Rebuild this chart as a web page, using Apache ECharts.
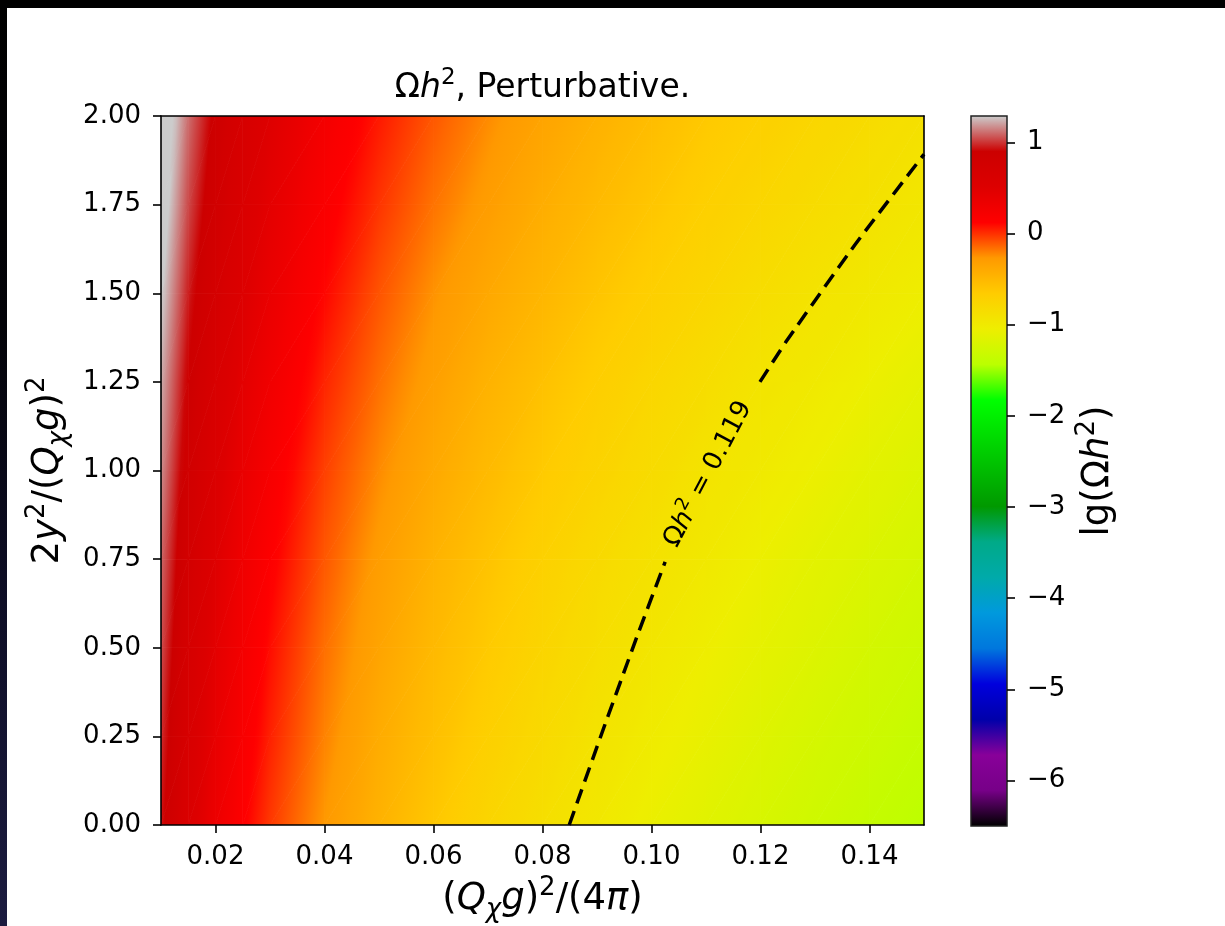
<!DOCTYPE html>
<html>
<head>
<meta charset="utf-8">
<title>Ωh², Perturbative.</title>
<script src="https://cdn.jsdelivr.net/npm/echarts@6/dist/echarts.min.js"></script>
<style>
  html, body { margin: 0; padding: 0; background: #ffffff; }
  #chart { width: 1225px; height: 926px; }
</style>
</head>
<body>
<div id="chart"></div>
<script>
const FONT = 'DejaVu Sans';

// Scan nodes: x = (Q_χ g)²/(4π), y = 2y²/(Q_χ g)²
const xNodes = [0.010, 0.015, 0.020, 0.025, 0.030, 0.040, 0.050, 0.060, 0.070,
                0.080, 0.090, 0.100, 0.110, 0.120, 0.130, 0.140, 0.150];
const yNodes = [0.00, 0.25, 0.50, 0.75, 1.00, 1.25, 1.50, 1.75, 2.00];

// lg(Ωh²) along each row of constant y
const lgOmega_y000 = [0.93, 0.58, 0.33, 0.14, -0.02, -0.27, -0.46, -0.62, -0.76, -0.87, -0.97, -1.07, -1.15, -1.22, -1.29, -1.36, -1.42];
const lgOmega_y025 = [0.99, 0.64, 0.39, 0.20, 0.04, -0.21, -0.41, -0.56, -0.70, -0.81, -0.92, -1.01, -1.09, -1.17, -1.24, -1.30, -1.36];
const lgOmega_y050 = [1.05, 0.69, 0.44, 0.25, 0.09, -0.16, -0.35, -0.51, -0.64, -0.76, -0.86, -0.95, -1.04, -1.11, -1.18, -1.25, -1.31];
const lgOmega_y075 = [1.10, 0.75, 0.50, 0.30, 0.15, -0.10, -0.30, -0.46, -0.59, -0.71, -0.81, -0.90, -0.98, -1.06, -1.13, -1.19, -1.25];
const lgOmega_y100 = [1.17, 0.81, 0.56, 0.37, 0.21, -0.04, -0.23, -0.39, -0.52, -0.64, -0.74, -0.83, -0.92, -0.99, -1.06, -1.13, -1.19];
const lgOmega_y125 = [1.23, 0.88, 0.63, 0.44, 0.28, 0.03, -0.16, -0.32, -0.46, -0.57, -0.68, -0.77, -0.85, -0.93, -0.99, -1.06, -1.12];
const lgOmega_y150 = [1.31, 0.96, 0.71, 0.52, 0.36, 0.11, -0.09, -0.25, -0.38, -0.49, -0.60, -0.69, -0.77, -0.85, -0.92, -0.98, -1.04];
const lgOmega_y175 = [1.39, 1.04, 0.79, 0.59, 0.43, 0.18, -0.01, -0.17, -0.30, -0.42, -0.52, -0.61, -0.70, -0.77, -0.84, -0.90, -0.96];
const lgOmega_y200 = [1.46, 1.11, 0.86, 0.66, 0.50, 0.25, 0.06, -0.10, -0.23, -0.35, -0.45, -0.54, -0.63, -0.70, -0.77, -0.83, -0.89];
const lgOmegaRows = [lgOmega_y000, lgOmega_y025, lgOmega_y050, lgOmega_y075, lgOmega_y100,
                     lgOmega_y125, lgOmega_y150, lgOmega_y175, lgOmega_y200];

// Ωh² = 0.119 contour, split where its inline label sits
const contourLowerX = [0.0849, 0.0911, 0.0973, 0.1025];
const contourLowerY = [0.000, 0.268, 0.530, 0.742];
const contourUpperX = [0.1199, 0.1249, 0.1373, 0.1500];
const contourUpperY = [1.250, 1.368, 1.636, 1.892];
const contourLabelPos = [0.1104, 0.99];

// Tick positions
const xTicks = [0.02, 0.04, 0.06, 0.08, 0.10, 0.12, 0.14];
const yTicks = [0.00, 0.25, 0.50, 0.75, 1.00, 1.25, 1.50, 1.75, 2.00];
const cbarTicks = [-6, -5, -4, -3, -2, -1, 0, 1];
const cbarRange = [-6.5, 1.29];

// nipy_spectral colour stops, evenly spaced over the colour range
const NIPY_SPECTRAL = ['#000000', '#770088', '#880099', '#0000aa', '#0000dd', '#0077dd', '#0099dd',
  '#00aaaa', '#00aa88', '#009900', '#00bb00', '#00dd00', '#00ff00', '#bbff00', '#eeee00',
  '#ffcc00', '#ff9900', '#ff0000', '#dd0000', '#cc0000', '#cccccc'];
const cmapRGB = NIPY_SPECTRAL.map(h => [1, 3, 5].map(k => parseInt(h.slice(k, k + 2), 16)));

function cmap(v) {
  let t = (v - cbarRange[0]) / (cbarRange[1] - cbarRange[0]);
  t = Math.max(0, Math.min(1, t));
  const n = cmapRGB.length;
  const s = t * (n - 1);
  const i = Math.min(n - 2, Math.floor(s));
  const f = s - i;
  const c0 = cmapRGB[i], c1 = cmapRGB[i + 1];
  const c = c0.map((a, k) => Math.round(a + (c1[k] - a) * f));
  return 'rgb(' + c.join(',') + ')';
}

// Gouraud shading: the value is linear over a triangle, so it is a linear
// gradient along the value gradient, coloured through the colour map.
function gouraudFill(p, v) {
  const d1x = p[1][0] - p[0][0], d1y = p[1][1] - p[0][1];
  const d2x = p[2][0] - p[0][0], d2y = p[2][1] - p[0][1];
  const dv1 = v[1] - v[0], dv2 = v[2] - v[0];
  const det = d1x * d2y - d1y * d2x;
  const vmin = Math.min(v[0], v[1], v[2]), vmax = Math.max(v[0], v[1], v[2]);
  if (Math.abs(det) < 1e-9 || vmax - vmin < 1e-6) return cmap((vmin + vmax) / 2);
  const a = (dv1 * d2y - dv2 * d1y) / det;
  const b = (d1x * dv2 - d2x * dv1) / det;
  const g2 = a * a + b * b;
  const s = (vmin - v[0]) / g2, e = (vmax - v[0]) / g2;
  const stops = [];
  const n = 8;
  for (let k = 0; k < n; k++) {
    stops.push({ offset: k / (n - 1), color: cmap(vmin + (vmax - vmin) * k / (n - 1)) });
  }
  return new echarts.graphic.LinearGradient(
    p[0][0] + a * s, p[0][1] + b * s, p[0][0] + a * e, p[0][1] + b * e, stops, true);
}

// Two triangles per scan cell
const triangles = [];
for (let j = 0; j < yNodes.length - 1; j++) {
  for (let i = 0; i < xNodes.length - 1; i++) {
    const A = [xNodes[i], yNodes[j], lgOmegaRows[j][i]];
    const B = [xNodes[i + 1], yNodes[j], lgOmegaRows[j][i + 1]];
    const C = [xNodes[i + 1], yNodes[j + 1], lgOmegaRows[j + 1][i + 1]];
    const D = [xNodes[i], yNodes[j + 1], lgOmegaRows[j + 1][i]];
    triangles.push(A.concat(B, C), A.concat(C, D));
  }
}

// Rich-text styles imitating math typesetting (italic symbols, sup/subscripts)
function mathRich(size) {
  const lh = Math.round(size * 1.3);
  const small = Math.round(size * 0.7);
  const supLh = Math.round(lh - 2 * size * 0.37);
  const subLh = Math.round(lh - 2 * size * 0.26);
  const base = { fontFamily: FONT, color: '#000' };
  return {
    n: Object.assign({}, base, { fontSize: size, lineHeight: lh }),
    i: Object.assign({}, base, { fontSize: size, lineHeight: lh, fontStyle: 'italic' }),
    sp: Object.assign({}, base, { fontSize: small, lineHeight: supLh, verticalAlign: 'top' }),
    sb: Object.assign({}, base, { fontSize: small, lineHeight: subLh, verticalAlign: 'bottom', fontStyle: 'italic' })
  };
}

const lineStyleAxis = { color: '#000', width: 1.6 };
const tickLabelStyle = { color: '#000', fontFamily: FONT, fontSize: 26 };
const fmt2 = v => Number(v).toFixed(2);
const fmtMinus = v => (v < 0 ? '\u2212' + Math.abs(v) : String(v));

const chart = echarts.init(document.getElementById('chart'), null, { renderer: 'canvas' });

chart.setOption({
  animation: false,
  backgroundColor: '#ffffff',
  grid: [
    { left: 161, top: 116, width: 763, height: 709, containLabel: false, outerBoundsMode: 'none' },
    { left: 971, top: 116, width: 36, height: 710, containLabel: false, outerBoundsMode: 'none' }
  ],
  xAxis: [
    {
      gridIndex: 0, type: 'value', min: 0.01, max: 0.15, position: 'bottom', z: 5,
      axisLine: { show: true, onZero: false, lineStyle: lineStyleAxis },
      axisTick: { show: true, customValues: xTicks, length: 8, lineStyle: { color: '#000', width: 1.6 } },
      axisLabel: Object.assign({ customValues: xTicks, formatter: fmt2, margin: 19 }, tickLabelStyle),
      splitLine: { show: false },
      name: '{n|(}{i|Q}{sb|χ}{i|g}{n|)}{sp|2}{n|/(4}{i|π}{n|)}',
      nameLocation: 'middle', nameGap: 50,
      nameTextStyle: { rich: mathRich(37) }
    },
    {
      gridIndex: 0, type: 'value', min: 0.01, max: 0.15, position: 'top', z: 5,
      axisLine: { show: true, onZero: false, lineStyle: lineStyleAxis },
      axisTick: { show: false }, axisLabel: { show: false }, splitLine: { show: false }
    },
    { gridIndex: 1, type: 'value', min: 0, max: 1, show: false }
  ],
  yAxis: [
    {
      gridIndex: 0, type: 'value', min: 0, max: 2, position: 'left', z: 5,
      axisLine: { show: true, onZero: false, lineStyle: lineStyleAxis },
      axisTick: { show: true, customValues: yTicks, length: 8, lineStyle: { color: '#000', width: 1.6 } },
      axisLabel: Object.assign({ customValues: yTicks, formatter: fmt2, margin: 20 }, tickLabelStyle),
      splitLine: { show: false },
      name: '{n|2}{i|y}{sp|2}{n|/(}{i|Q}{sb|χ}{i|g}{n|)}{sp|2}',
      nameLocation: 'middle', nameGap: 86, nameRotate: 90,
      nameTextStyle: { rich: mathRich(37) }
    },
    {
      gridIndex: 0, type: 'value', min: 0, max: 2, position: 'right', z: 5,
      axisLine: { show: true, onZero: false, lineStyle: lineStyleAxis },
      axisTick: { show: false }, axisLabel: { show: false }, splitLine: { show: false }
    },
    {
      gridIndex: 1, type: 'value', min: cbarRange[0], max: cbarRange[1], position: 'right', z: 5,
      axisLine: { show: false, onZero: false },
      axisTick: { show: true, customValues: cbarTicks, length: 8, lineStyle: { color: '#000', width: 1.6 } },
      axisLabel: Object.assign({ customValues: cbarTicks, formatter: fmtMinus, margin: 20 }, tickLabelStyle),
      splitLine: { show: false },
      name: '{n|lg(Ω}{i|h}{sp|2}{n|)}',
      nameLocation: 'middle', nameGap: 67, nameRotate: 90,
      nameTextStyle: { rich: mathRich(37) }
    }
  ],
  graphic: [
    { type: 'rect', silent: true, shape: { x: 0, y: 0, width: 1225, height: 8 }, style: { fill: '#000' } },
    {
      type: 'rect', silent: true, shape: { x: 0, y: 0, width: 7, height: 926 },
      style: {
        fill: new echarts.graphic.LinearGradient(0, 0, 0, 1, [
          { offset: 0, color: '#000000' }, { offset: 0.35, color: '#030308' },
          { offset: 0.65, color: '#0e0e26' }, { offset: 1, color: '#1c1c40' }
        ])
      }
    },
    {
      type: 'text', silent: true, x: 542.5, y: 88,
      style: {
        text: '{n|Ω}{i|h}{sp|2}{n|, Perturbative.}',
        rich: mathRich(33),
        align: 'center', verticalAlign: 'middle',
        textAlign: 'center', textVerticalAlign: 'middle'
      }
    }
  ],
  series: [
    {
      type: 'custom', name: 'lg(Ωh²)', xAxisIndex: 0, yAxisIndex: 0, clip: true, silent: true,
      encode: { x: [0, 3, 6], y: [1, 4, 7] },
      data: triangles,
      renderItem: function (params, api) {
        const pts = [], vals = [];
        for (let k = 0; k < 3; k++) {
          pts.push(api.coord([api.value(3 * k), api.value(3 * k + 1)]));
          vals.push(api.value(3 * k + 2));
        }
        const fill = gouraudFill(pts, vals);
        return {
          type: 'polygon', shape: { points: pts },
          style: { fill: fill, stroke: fill, lineWidth: 0.8 }
        };
      }
    },
    {
      type: 'line', name: 'Ωh² = 0.119', xAxisIndex: 0, yAxisIndex: 0, silent: true, z: 4,
      symbol: 'none', smooth: 0.2,
      lineStyle: { color: '#000', width: 3.5, type: [15, 8] },
      data: contourLowerX.map((x, k) => [x, contourLowerY[k]])
    },
    {
      type: 'line', name: 'Ωh² = 0.119 (upper)', xAxisIndex: 0, yAxisIndex: 0, silent: true, z: 4,
      symbol: 'none', smooth: 0.2,
      lineStyle: { color: '#000', width: 3.5, type: [15, 8] },
      data: contourUpperX.map((x, k) => [x, contourUpperY[k]])
    },
    {
      type: 'custom', xAxisIndex: 0, yAxisIndex: 0, silent: true, z: 6,
      encode: { x: [0, 2, 4], y: [1, 3, 5] },
      data: [[contourLabelPos[0], contourLabelPos[1],
              contourLowerX[contourLowerX.length - 1], contourLowerY[contourLowerY.length - 1],
              contourUpperX[0], contourUpperY[0]]],
      renderItem: function (params, api) {
        const c = api.coord([api.value(0), api.value(1)]);
        const p = api.coord([api.value(2), api.value(3)]);
        const q = api.coord([api.value(4), api.value(5)]);
        const ang = Math.atan2(p[1] - q[1], q[0] - p[0]);
        return {
          type: 'text', x: c[0], y: c[1], rotation: ang,
          style: {
            text: '{n|Ω}{i|h}{sp|2}{n| = 0.119}',
            rich: mathRich(26),
            align: 'center', verticalAlign: 'middle',
            textAlign: 'center', textVerticalAlign: 'middle'
          }
        };
      }
    },
    {
      type: 'custom', xAxisIndex: 2, yAxisIndex: 2, silent: true,
      encode: { x: [0, 2], y: [1, 3] },
      data: [[0, cbarRange[0], 1, cbarRange[1]]],
      renderItem: function (params, api) {
        const p0 = api.coord([api.value(0), api.value(1)]);
        const p1 = api.coord([api.value(2), api.value(3)]);
        const grad = new echarts.graphic.LinearGradient(0, p0[1], 0, p1[1],
          NIPY_SPECTRAL.map((c, k) => ({ offset: k / (NIPY_SPECTRAL.length - 1), color: c })), true);
        return {
          type: 'rect',
          shape: { x: p0[0], y: p1[1], width: p1[0] - p0[0], height: p0[1] - p1[1] },
          style: { fill: grad, stroke: '#222', lineWidth: 1.5 }
        };
      }
    }
  ]
});
</script>
</body>
</html>
